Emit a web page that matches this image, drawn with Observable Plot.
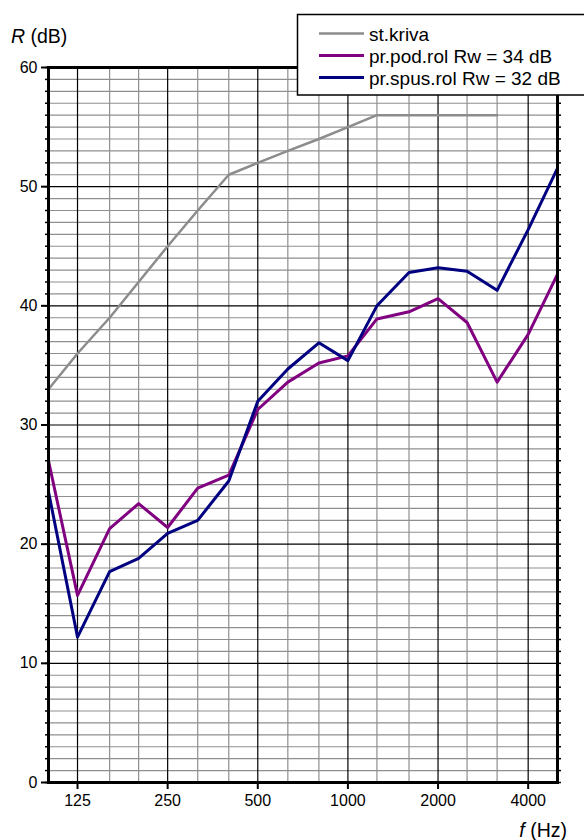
<!DOCTYPE html>
<html><head><meta charset="utf-8">
<script src="https://cdn.jsdelivr.net/npm/d3@7"></script>
<script src="https://cdn.jsdelivr.net/npm/@observablehq/plot@0.6"></script>
<style>
body{margin:0;background:#fff;font-family:"Liberation Sans",Arial,sans-serif;}
#wrap{position:relative;width:584px;height:840px;overflow:hidden;}
#wrap > svg{position:absolute;left:0;top:0;}
#overlay{position:absolute;left:0;top:0;pointer-events:none;}
</style></head><body><div id="wrap"></div>
<script>
// 1/3-octave band centre frequencies (Hz)
const freqs = [100,125,160,200,250,315,400,500,630,800,1000,1250,1600,2000,2500,3150,4000,5000];
// reference curve (st.kriva), 100–3150 Hz
const refFreqs = [100,125,160,200,250,315,400,500,630,800,1000,1250,1600,2000,2500,3150];
const refCurve = [33,36,39,42,45,48,51,52,53,54,55,56,56,56,56,56];
// pr.pod.rol  Rw = 34 dB
const podRol = [27.0,15.7,21.3,23.4,21.4,24.7,25.8,31.3,33.6,35.2,35.8,38.9,39.5,40.6,38.6,33.6,37.6,42.6];
// pr.spus.rol Rw = 32 dB
const spusRol = [24.4,12.2,17.7,18.8,20.9,22.0,25.3,32.0,34.7,36.9,35.4,40.0,42.8,43.2,42.9,41.3,46.4,51.5];
// axis ticks
const octaveTicks = [125,250,500,1000,2000,4000];
const yMajorTicks = [0,10,20,30,40,50,60];
const legendLabels = ["st.kriva","pr.pod.rol Rw = 34 dB","pr.spus.rol Rw = 32 dB"];
const colors = {ref:"#8c8c8c", pod:"#800080", spus:"#000080"};

const refData = refFreqs.map((f,i)=>({f, r:refCurve[i]}));
const podData = freqs.map((f,i)=>({f, r:podRol[i]}));
const spusData = freqs.map((f,i)=>({f, r:spusRol[i]}));
const minorY = d3.range(1,60).filter(v=>v%10!==0);
const thirdLines = freqs.filter(f=>!octaveTicks.includes(f) && f!==100 && f!==5000);

const chart = Plot.plot({
  width: 584, height: 840,
  marginLeft: 48, marginRight: 27, marginTop: 67, marginBottom: 58,
  style: {fontFamily:"'Liberation Sans', Arial, sans-serif", fontSize:"16px", color:"#000", background:"transparent"},
  x: {type:"log", domain:[100,5012]},
  y: {domain:[0,60]},
  marks: [
    Plot.ruleY(minorY, {stroke:"#8f8f8f", strokeWidth:1.2}),
    Plot.ruleX(thirdLines, {stroke:"#8f8f8f", strokeWidth:1.2}),
    Plot.ruleY(yMajorTicks.slice(1,-1), {stroke:"#000", strokeWidth:1.2}),
    Plot.ruleX(octaveTicks, {stroke:"#000", strokeWidth:1.2}),
    Plot.line(refData, {x:"f", y:"r", stroke:colors.ref, strokeWidth:2.5}),
    Plot.line(podData, {x:"f", y:"r", stroke:colors.pod, strokeWidth:3}),
    Plot.line(spusData, {x:"f", y:"r", stroke:colors.spus, strokeWidth:3}),
    Plot.frame({stroke:"#000", strokeWidth:3}),
    Plot.axisY({anchor:"left", ticks:d3.range(0,61), tickSize:3, tickFormat:()=>"", label:null, strokeWidth:1.5}),
    Plot.axisY({anchor:"right", ticks:d3.range(0,61), tickSize:3, tickFormat:()=>"", label:null, strokeWidth:1.5}),
    Plot.axisY({anchor:"left", ticks:yMajorTicks, tickSize:7, tickPadding:4, fontSize:16, label:null, strokeWidth:2}),
    Plot.axisX({anchor:"bottom", ticks:octaveTicks, tickFormat:d=>String(d), tickSize:7, tickPadding:5, fontSize:16, label:null, strokeWidth:2})
  ]
});
const wrap = document.getElementById("wrap");
wrap.appendChild(chart);

// overlay: axis titles and legend
const ov = d3.select(wrap).append("svg").attr("id","overlay").attr("width",584).attr("height",840)
  .style("font-family","'Liberation Sans', Arial, sans-serif");
const yl = ov.append("text").attr("x",11).attr("y",43).attr("font-size",19.5);
yl.append("tspan").attr("font-style","italic").text("R");
yl.append("tspan").text(" (dB)");
const xl = ov.append("text").attr("x",567).attr("y",837).attr("font-size",19.5).attr("text-anchor","end");
xl.append("tspan").attr("font-style","italic").text("f");
xl.append("tspan").text(" (Hz)");

const lg = ov.append("g");
lg.append("rect").attr("x",297.5).attr("y",14.5).attr("width",300).attr("height",80.5)
  .attr("fill","#fff").attr("stroke","#000").attr("stroke-width",1.5);
const lgColors = [colors.ref, colors.pod, colors.spus];
const lgWidths = [2.5,3,3];
legendLabels.forEach((t,i)=>{
  const cy = 33.5 + i*22;
  lg.append("line").attr("x1",319).attr("x2",364).attr("y1",cy).attr("y2",cy)
    .attr("stroke",lgColors[i]).attr("stroke-width",lgWidths[i]);
  lg.append("text").attr("x",369).attr("y",cy+7).attr("font-size",19).text(t);
});
</script>
</body></html>
